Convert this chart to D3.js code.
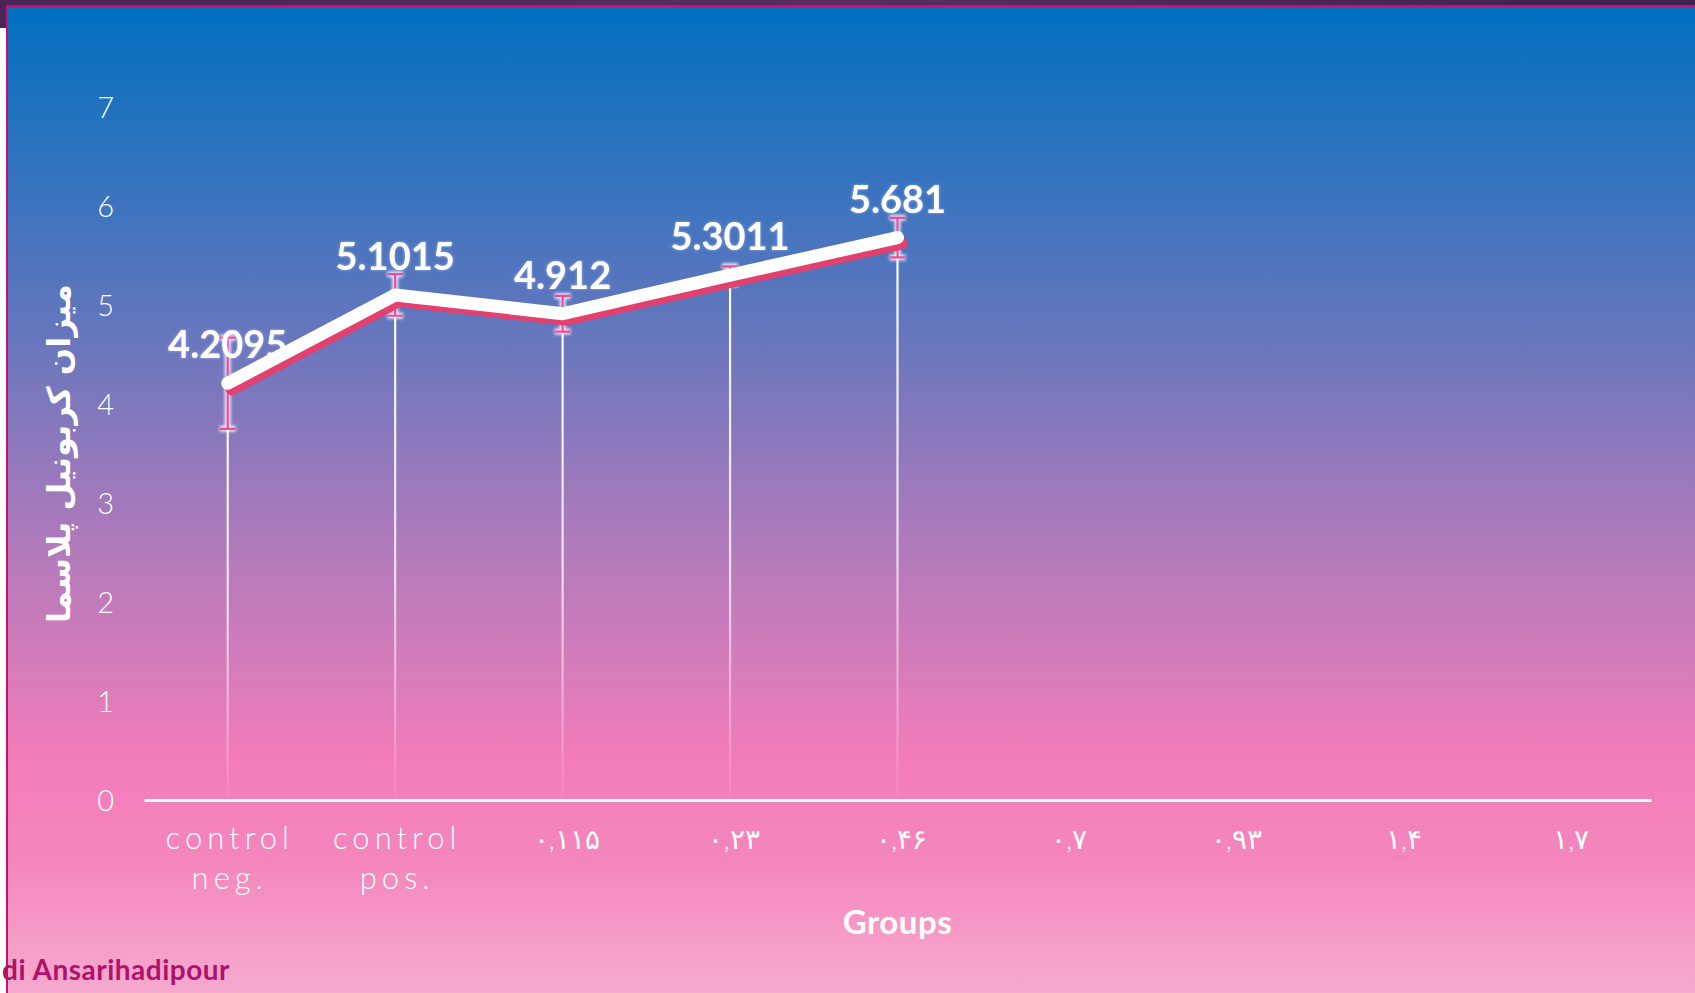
<!DOCTYPE html>
<html>
<head>
<meta charset="utf-8">
<script src="https://cdn.jsdelivr.net/npm/d3@7"></script>
<style>
  html, body { margin: 0; padding: 0; background: #ffffff; }
  svg { display: block; }
</style>
</head>
<body>
<svg id="chart" width="1695" height="993"></svg>
<script>
// ---- data ----
const categories = ["control neg.", "control pos.", "۰,۱۱۵", "۰,۲۳", "۰,۴۶", "۰,۷", "۰,۹۳", "۱,۴", "۱,۷"];
const values = [4.2095, 5.1015, 4.912, 5.3011, 5.681];
const errors = [0.46, 0.21, 0.18, 0.09, 0.2];
const valueLabels = ["4.2095", "5.1015", "4.912", "5.3011", "5.681"];
const yTicks = [0, 1, 2, 3, 4, 5, 6, 7];
const yTitle = "میزان کربونیل پلاسما";
const xTitle = "Groups";
const credit = "di Ansarihadipour";

const W = 1695, H = 993;
const svg = d3.select("#chart");
const defs = svg.append("defs");

// background gradient
const bg = defs.append("linearGradient").attr("id", "bg").attr("x1", 0).attr("y1", 0).attr("x2", 0).attr("y2", 1);
[[0, "#0070c0"], [0.32, "#6276bd"], [0.54, "#ae7abb"], [0.76, "#f27cb9"], [0.865, "#f486bc"], [1, "#f7aad0"]]
  .forEach(([o, c]) => bg.append("stop").attr("offset", o).attr("stop-color", c));

const topbar = defs.append("linearGradient").attr("id", "topbar").attr("x1", 0).attr("y1", 0).attr("x2", 1).attr("y2", 0);
[[0, "#4a2558"], [0.5, "#5c2a60"], [1, "#3e2150"]].forEach(([o, c]) => topbar.append("stop").attr("offset", o).attr("stop-color", c));

// slide frame
svg.append("rect").attr("x", 0).attr("y", 0).attr("width", W).attr("height", H).attr("fill", "#ffffff");
svg.append("rect").attr("x", 0).attr("y", 0).attr("width", W).attr("height", 6).attr("fill", "url(#topbar)");
svg.append("rect").attr("x", 0).attr("y", 0).attr("width", 8).attr("height", 28).attr("fill", "#4a2558");
svg.append("rect").attr("x", 8).attr("y", 6).attr("width", W - 8).attr("height", H - 6).attr("fill", "url(#bg)");
svg.append("rect").attr("x", 6).attr("y", 5).attr("width", W - 6).attr("height", 2).attr("fill", "#c4126e");
svg.append("rect").attr("x", 6).attr("y", 5).attr("width", 2).attr("height", H - 5).attr("fill", "#c4126e");

// scales
const plot = { left: 144, right: 1651, top: 107, bottom: 800 };
const x = d3.scaleBand().domain(categories).range([plot.left, plot.right]);
const y = d3.scaleLinear().domain([0, 7]).range([plot.bottom, plot.top]);
const cx = i => x(categories[i]) + x.bandwidth() / 2;

// y axis tick labels
const yAxis = d3.axisLeft(y).tickValues(yTicks).tickSize(0).tickPadding(0).tickFormat(d3.format("d"));
const gy = svg.append("g").attr("transform", "translate(114,0)").call(yAxis);
gy.select(".domain").remove();
gy.selectAll("text")
  .attr("fill", "#ffffff")
  .attr("dy", "0.36em")
  .style("font-family", "Lato, 'Open Sans', sans-serif")
  .style("font-weight", 300)
  .style("font-size", "29px");

// x axis
const xAxis = d3.axisBottom(x).tickSize(0).tickPadding(0);
const gx = svg.append("g").attr("transform", `translate(0,${plot.bottom})`).call(xAxis);
gx.select(".domain").attr("stroke", "#ffffff").attr("stroke-width", 3);
gx.selectAll(".tick text").each(function(d) {
  const t = d3.select(this);
  const persian = /[\u06F0-\u06F9]/.test(d);
  t.text(null)
    .attr("y", 0).attr("dy", null)
    .attr("fill", "#ffffff")
    .style("font-family", "Lato, 'DejaVu Sans', sans-serif")
    .style("font-weight", 300)
    .style("font-size", persian ? "28px" : "31px")
    .style("letter-spacing", persian ? "9px" : "5px");
  const parts = d.split(" ");
  parts.forEach((p, k) => {
    t.append("tspan").attr("x", persian ? 4 : 2).attr("y", 49 + k * 40).text(p);
  });
});

// drop lines
values.forEach((v, i) => {
  const gid = "drop" + i;
  const g = defs.append("linearGradient").attr("id", gid)
    .attr("gradientUnits", "userSpaceOnUse")
    .attr("x1", 0).attr("x2", 0).attr("y1", y(v)).attr("y2", plot.bottom);
  g.append("stop").attr("offset", 0).attr("stop-color", "#ffffff").attr("stop-opacity", 1);
  g.append("stop").attr("offset", 0.55).attr("stop-color", "#ffffff").attr("stop-opacity", 0.75);
  g.append("stop").attr("offset", 1).attr("stop-color", "#ffffff").attr("stop-opacity", 0.05);
  svg.append("line")
    .attr("x1", cx(i)).attr("x2", cx(i))
    .attr("y1", y(v)).attr("y2", plot.bottom - 2)
    .attr("stroke", `url(#${gid})`).attr("stroke-width", 2.2);
});

// error bars (glow + pink)
const blur = defs.append("filter").attr("id", "glow").attr("x", "-50%").attr("y", "-50%").attr("width", "200%").attr("height", "200%");
blur.append("feGaussianBlur").attr("stdDeviation", 1.6);
const eb = svg.append("g");
values.forEach((v, i) => {
  const xc = cx(i), y1 = y(v + errors[i]), y2 = y(v - errors[i]);
  const path = `M${xc - 8},${y1}H${xc + 8}M${xc},${y1}V${y2}M${xc - 8},${y2}H${xc + 8}`;
  eb.append("path").attr("d", path).attr("stroke", "#ffffff").attr("stroke-width", 6).attr("fill", "none")
    .attr("opacity", 0.85).attr("filter", "url(#glow)");
  eb.append("path").attr("d", path).attr("stroke", "#ee4a9c").attr("stroke-width", 2.2).attr("fill", "none");
});

// line with red shadow
const line = d3.line().x((d, i) => cx(i)).y(d => y(d));
svg.append("path").datum(values).attr("d", line)
  .attr("transform", "translate(4,6)")
  .attr("fill", "none").attr("stroke", "#e2406f").attr("stroke-width", 12)
  .attr("stroke-linejoin", "round").attr("stroke-linecap", "round");
svg.append("path").datum(values).attr("d", line)
  .attr("fill", "none").attr("stroke", "#ffffff").attr("stroke-width", 13)
  .attr("stroke-linejoin", "round").attr("stroke-linecap", "round");

// value labels
const tshadow = defs.append("filter").attr("id", "tshadow").attr("x", "-20%").attr("y", "-20%").attr("width", "140%").attr("height", "140%");
tshadow.append("feDropShadow").attr("dx", 0).attr("dy", 0).attr("stdDeviation", 1.5).attr("flood-color", "#c8d0ff").attr("flood-opacity", 0.6);
svg.append("g").selectAll("text").data(values).join("text")
  .attr("x", (d, i) => cx(i))
  .attr("y", d => y(d) - 25)
  .attr("text-anchor", "middle")
  .attr("fill", "#ffffff")
  .attr("filter", "url(#tshadow)")
  .style("font-family", "Lato, 'Open Sans', sans-serif")
  .style("font-weight", 700)
  .style("font-size", "38px")
  .text((d, i) => valueLabels[i]);

// axis titles
svg.append("text")
  .attr("transform", `translate(70,${(plot.top + plot.bottom) / 2}) rotate(-90)`)
  .attr("text-anchor", "middle")
  .attr("fill", "#ffffff")
  .style("font-family", "'DejaVu Sans', sans-serif")
  .style("font-weight", 700)
  .style("font-size", "32px")
  .text(yTitle);

svg.append("text")
  .attr("x", (plot.left + plot.right) / 2)
  .attr("y", 934)
  .attr("text-anchor", "middle")
  .attr("fill", "#ffffff")
  .style("font-family", "Lato, 'Open Sans', sans-serif")
  .style("font-weight", 700)
  .style("font-size", "33px")
  .style("letter-spacing", "0.5px")
  .text(xTitle);

svg.append("text")
  .attr("x", 230)
  .attr("y", 980)
  .attr("text-anchor", "end")
  .attr("fill", "#b0126a")
  .style("font-family", "Lato, 'Open Sans', sans-serif")
  .style("font-weight", 700)
  .style("font-size", "28px")
  .style("letter-spacing", "0.5px")
  .text(credit);
</script>
</body>
</html>
